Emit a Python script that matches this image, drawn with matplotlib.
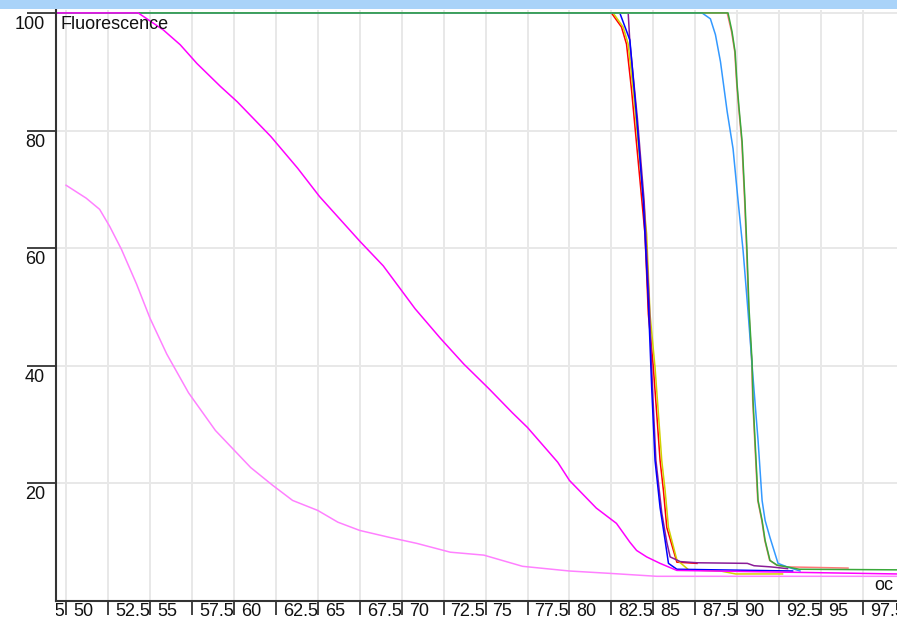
import matplotlib
matplotlib.use("Agg")
import matplotlib.pyplot as plt
from matplotlib.patches import Rectangle
from matplotlib.transforms import Bbox, TransformedBbox, ScaledTranslation

plt.rcParams["font.family"] = ["Liberation Sans", "DejaVu Sans"]

# melt curves: temperature (oC) vs fluorescence
mag_t = [49.5, 54.3, 55.8, 56.8, 57.8, 59.2, 60.2, 62.2, 63.8, 65.1, 67.5, 68.9, 70.8,
         72.3, 73.7, 75.2, 76.6, 77.5, 79.3, 80.0, 81.6, 82.8, 83.6, 84.0, 84.6, 85.4,
         86.4, 99.5]
mag_f = [100, 100, 97.1, 94.6, 91.4, 87.5, 84.9, 79.0, 73.6, 68.8, 61.2, 57.0, 49.7,
         44.7, 40.3, 36.1, 32.0, 29.5, 23.6, 20.5, 15.8, 13.2, 10.0, 8.6, 7.5, 6.4,
         5.2, 4.6]

pink_t = [50.0, 51.2, 52.0, 52.6, 53.3, 54.2, 55.0, 56.0, 57.3, 58.9, 61.0, 62.3, 63.5,
          65.0, 66.2, 67.5, 69.3, 70.9, 72.9, 74.9, 77.2, 80.0, 82.4, 85.2, 99.5]
pink_f = [70.7, 68.5, 66.6, 63.7, 59.8, 53.9, 48.1, 42.0, 35.4, 29.0, 22.7, 19.7, 17.1,
          15.4, 13.4, 12.0, 10.8, 9.8, 8.3, 7.8, 5.9, 5.1, 4.7, 4.2, 4.2]

blue_t = [49.5, 83.0, 83.6, 84.0, 84.4, 84.7, 84.9, 85.1, 85.4, 85.7, 85.9, 86.4, 93.3]
blue_f = [100, 100, 95.4, 82.4, 68.0, 51.0, 36.3, 23.9, 15.9, 10.3, 6.4, 5.4, 5.1]

purple_t = [49.5, 83.5, 83.6, 84.05, 84.45, 84.75, 84.95, 85.15, 85.5, 85.8, 86.0, 86.6,
            87.6, 90.6, 91.0, 92.0, 93.0]
purple_f = [100, 100, 95.0, 82.0, 68.0, 51.0, 36.0, 24.0, 15.0, 10.0, 7.5, 6.7,
            6.5, 6.4, 6.0, 5.8, 5.5]

yellow_t = [49.5, 82.6, 83.2, 83.5, 83.8, 84.6, 84.8, 85.1, 85.3, 85.5, 85.7, 85.9, 86.4,
            87.1, 89.0, 89.9, 92.7]
yellow_f = [100, 100, 97.6, 94.7, 86.9, 62.4, 48.8, 39.7, 31.9, 23.9, 18.8, 12.5, 7.0,
            5.3, 5.1, 4.6, 4.6]

red_t = [49.5, 82.5, 83.1, 83.4, 83.7, 84.5, 84.7, 85.0, 85.2, 85.4, 85.6, 85.8, 86.4,
         87.6]
red_f = [100, 100, 97.6, 94.7, 86.9, 62.4, 48.8, 39.7, 31.9, 23.9, 18.8, 12.5, 6.6,
         6.4]

ltblue_t = [49.5, 87.9, 88.4, 88.7, 89.0, 89.4, 89.75, 90.05, 90.35, 90.64, 90.94, 91.24,
            91.48, 91.66, 91.95, 92.43, 92.97, 93.74]
ltblue_f = [100, 100, 99.0, 96.3, 91.7, 83.2, 76.9, 68.0, 59.5, 49.3, 38.0, 27.3,
            17.1, 13.7, 10.8, 6.4, 5.8, 5.1]

green_t = [49.5, 89.45, 89.69, 89.87, 89.99, 90.11, 90.29, 90.46, 90.58, 90.70, 90.88,
           90.94, 91.24, 91.48, 91.66, 91.95, 92.37, 92.97, 93.7, 99.5]
green_f = [100, 100, 96.8, 93.4, 87.8, 83.7, 78.1, 68.0, 59.5, 49.8, 40.8,
           34.1, 17.1, 13.7, 10.3, 6.9, 6.1, 5.8, 5.4, 5.3]

salmon_t = [49.5, 89.4, 89.66, 89.85, 89.97, 90.09, 90.27, 90.44, 90.56, 90.68, 90.86,
            90.92, 91.22, 91.46, 91.64, 91.93, 92.35, 92.95, 96.6]
salmon_f = [100, 100, 96.8, 93.4, 87.8, 83.7, 78.1, 68.0, 59.5, 49.8, 40.8,
            34.1, 17.1, 13.7, 10.3, 6.9, 6.1, 5.8, 5.6]

x_ticks = [47.5 + 2.5 * i for i in range(21)]
y_ticks = [20, 40, 60, 80, 100]

W, H = 897, 621
fig = plt.figure(figsize=(W / 100, H / 100), dpi=100)
fig.patch.set_facecolor("white")
fig.patches.append(Rectangle((0, 1 - 9 / H), 1, 9 / H, transform=fig.transFigure,
                             facecolor="#a9d3f9", edgecolor="none"))

ax = fig.add_axes([56 / W, 20 / H, 1 - 56 / W, 591 / H])
ax.set_xlim(49.4, 99.52)
ax.set_ylim(0, 100.5)

ax.set_xticks([t for t in x_ticks if t >= 50])
ax.set_yticks(y_ticks)
ax.grid(True, color="#e8e8e8", linewidth=1.4)
ax.set_axisbelow(True)
ax.tick_params(axis="x", direction="out", length=10, width=1.2, color="#222222",
               labelbottom=False)
ax.tick_params(axis="y", direction="out", length=21, width=1.2, color="#222222",
               labelleft=False)
for side in ("top", "right"):
    ax.spines[side].set_visible(False)
for side in ("left", "bottom"):
    ax.spines[side].set_color("#333333")
    ax.spines[side].set_linewidth(1.5)

lw = 1.1
ax.plot(pink_t, pink_f, color="#ff80ff", lw=lw)
ax.plot(red_t, red_f, color="#ff0000", lw=lw)
ax.plot(yellow_t, yellow_f, color="#d2d200", lw=lw)
ax.plot(purple_t, purple_f, color="#8a1c98", lw=lw)
ax.plot(blue_t, blue_f, color="#0000ff", lw=lw)
ax.plot(salmon_t, salmon_f, color="#ff7878", lw=lw)
ax.plot(ltblue_t, ltblue_f, color="#3399ff", lw=lw)
ax.plot(green_t, green_f, color="#3aa83a", lw=lw)
ax.plot(mag_t, mag_f, color="#ff00ff", lw=lw)

fs = 13
# x labels sit just right of their tick marks, clipped at the left spine
clip = TransformedBbox(Bbox([[0, -1], [1.2, 1]]), ax.transAxes)
xoff = ax.get_xaxis_transform() + ScaledTranslation(7 / 100, -2 / 100, fig.dpi_scale_trans)
for t in x_ticks:
    lab = f"{t:g}"
    txt = ax.text(t, 0, lab, transform=xoff, ha="left", va="top", fontsize=fs,
                  color="#111111", clip_on=True)
    txt.set_clip_box(clip)

# y labels hang below their tick lines
yoff = ax.get_yaxis_transform() + ScaledTranslation(0, -3 / 100, fig.dpi_scale_trans)
for v in y_ticks:
    ax.text(-11 / (W - 56), v, str(v), transform=yoff, ha="right", va="top",
            fontsize=fs, color="#111111", clip_on=False)

ax.text(4 / (W - 56), 100, "Fluorescence", transform=yoff, ha="left", va="top",
        fontsize=fs, color="#111111")
ax.text(0.995, 0.012, "oc", transform=ax.transAxes, ha="right", va="bottom",
        fontsize=fs, color="#111111")

fig.savefig("out.png", dpi=100)
